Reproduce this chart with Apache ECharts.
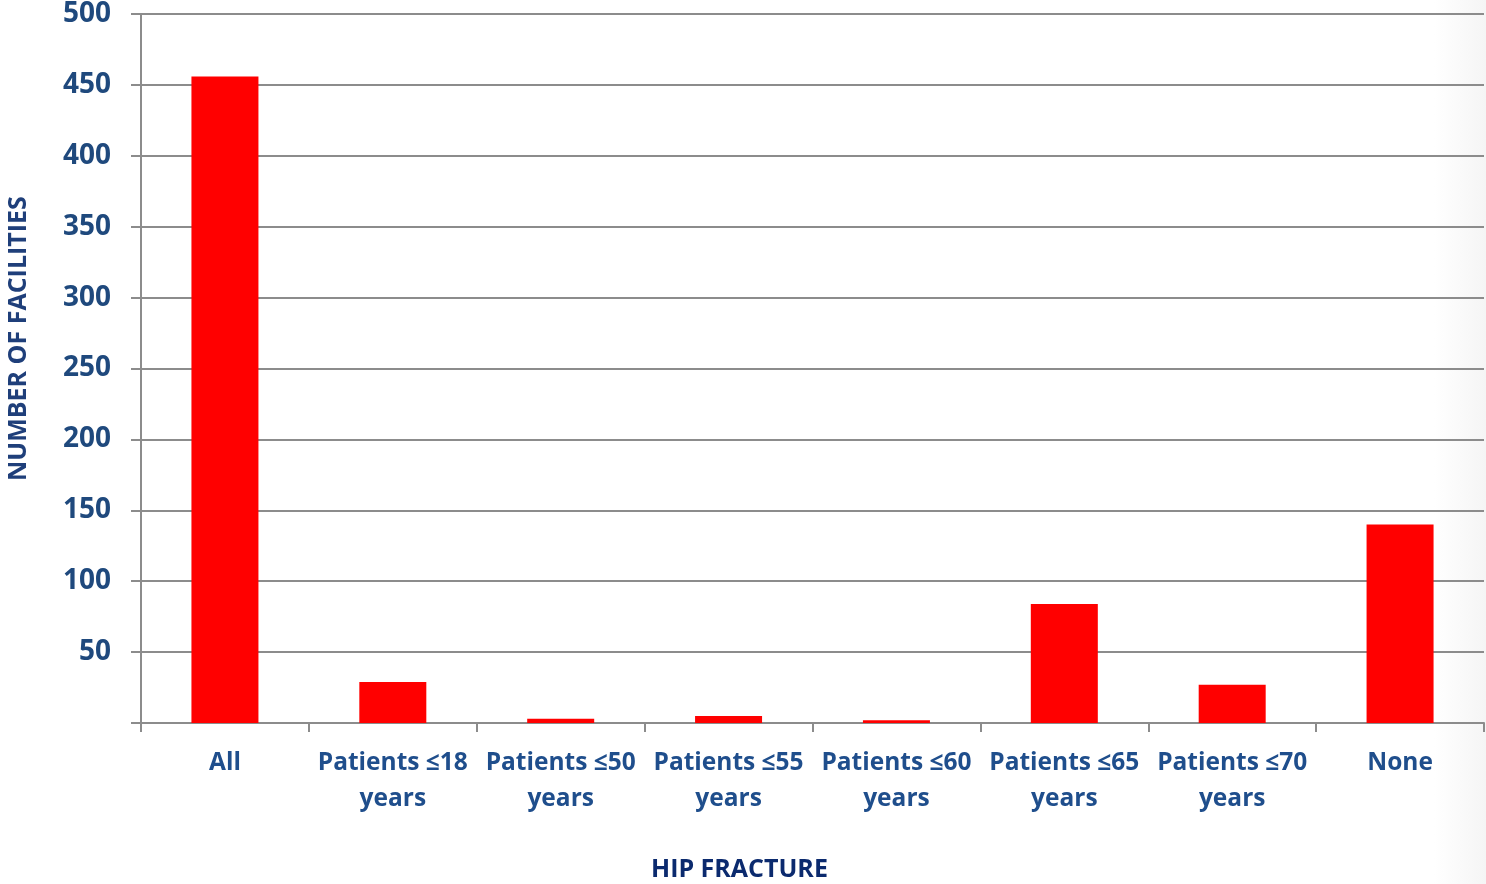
<!DOCTYPE html>
<html><head><meta charset="utf-8">
<script src="https://cdn.jsdelivr.net/npm/echarts@6/dist/echarts.min.js"></script>
<style>html,body{margin:0;padding:0;background:#fff}#c{width:1486px;height:884px}</style>
</head><body><div id="c"></div>
<script>
const categories = ['All', 'Patients ≤18\nyears', 'Patients ≤50\nyears', 'Patients ≤55\nyears', 'Patients ≤60\nyears', 'Patients ≤65\nyears', 'Patients ≤70\nyears', 'None'];
const facilities = [456, 29, 3, 5, 2, 84, 27, 140];
const yTicks = [0, 50, 100, 150, 200, 250, 300, 350, 400, 450, 500];
const xTitle = 'HIP FRACTURE';
const yTitle = 'NUMBER OF FACILITIES';

const font = 'Open Sans';
const chart = echarts.init(document.getElementById('c'));
chart.setOption({
  animation: false,
  backgroundColor: {type:'linear', x:0, y:0, x2:1, y2:0, colorStops:[{offset:0,color:'#ffffff'},{offset:0.965,color:'#ffffff'},{offset:1,color:'#f5f5f5'}]},
  grid: {left: 141, right: 2, top: 14, bottom: 161, containLabel: false},
  xAxis: {
    type: 'category', data: categories,
    axisLine: {lineStyle: {color: '#8c8c8c', width: 2}},
    axisTick: {show: true, length: 9, lineStyle: {color: '#8c8c8c', width: 2}},
    axisLabel: {color: '#1F4E8C', fontFamily: font, fontWeight: 'bold', fontSize: 24.5, lineHeight: 36, margin: 22, interval: 0}
  },
  yAxis: {
    type: 'value', min: yTicks[0], max: yTicks[yTicks.length - 1], interval: 50,
    axisLine: {show: true, lineStyle: {color: '#8c8c8c', width: 2}},
    axisTick: {show: true, length: 10, lineStyle: {color: '#8c8c8c', width: 2}},
    splitLine: {lineStyle: {color: '#8c8c8c', width: 2}},
    axisLabel: {color: '#1F497D', fontFamily: font, fontWeight: 'bold', fontSize: 28, margin: 30,
      formatter: v => v === 0 ? '' : String(v)}
  },
  series: [{
    type: 'bar', data: facilities, barWidth: 67,
    itemStyle: {color: '#FF0000'}
  }],
  graphic: [
    {type: 'text', left: 651, top: 857, style: {text: xTitle, fill: '#0B2A6E', font: 'bold 25px "Open Sans"'}},
    {type: 'text', x: 6, y: 481, rotation: Math.PI / 2, style: {text: yTitle, fill: '#1F3F7A', font: 'bold 25px "Open Sans"'}}
  ]
});
</script></body></html>
